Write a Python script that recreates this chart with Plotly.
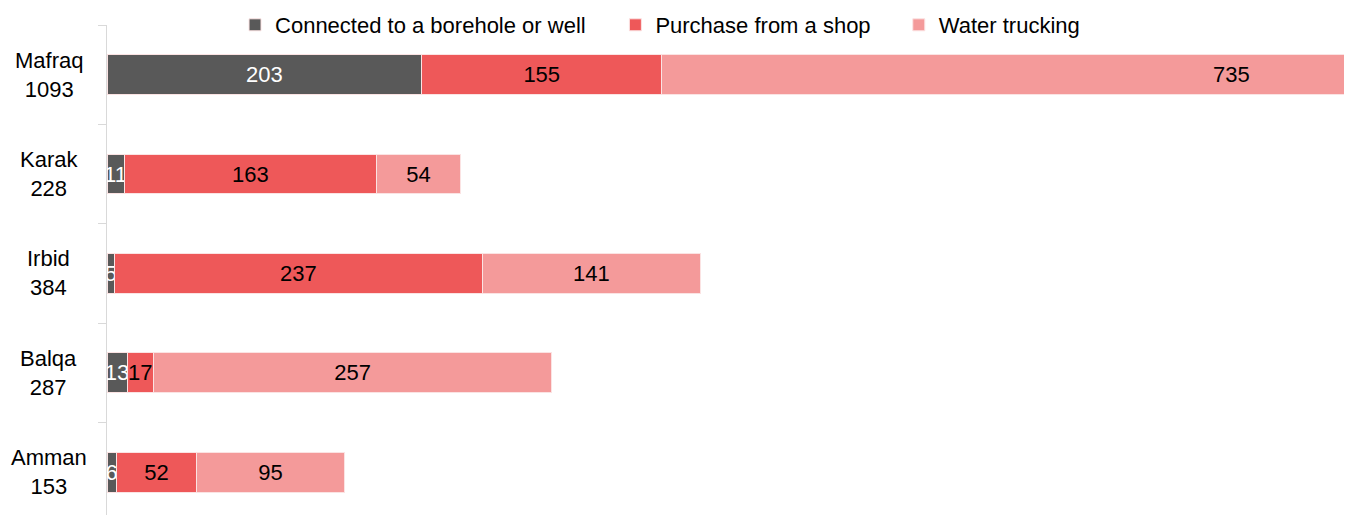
import plotly.graph_objects as go

regions = ["Amman", "Balqa", "Irbid", "Karak", "Mafraq"]
totals = [153, 287, 384, 228, 1093]
borehole = [6, 13, 5, 11, 203]
shop = [52, 17, 237, 163, 155]
trucking = [95, 257, 141, 54, 735]
series_names = ["Connected to a borehole or well", "Purchase from a shop", "Water trucking"]
colors = ["#595959", "#EE5859", "#F49A9A"]
text_colors = ["white", "black", "black"]
legend_ids = ["legend", "legend2", "legend3"]
legend_x = [0.103, 0.409, 0.637]

FONT = "Liberation Sans Narrow, Arial Narrow, Liberation Sans, Arial"

fig = go.Figure()
for name, vals, col, tcol, lid in zip(series_names, [borehole, shop, trucking], colors, text_colors, legend_ids):
    fig.add_trace(go.Bar(
        y=regions, x=vals, name=name, orientation="h", legend=lid,
        marker=dict(color=col, line=dict(color="#FBE3E3", width=1)),
        text=[str(v) for v in vals], textposition="inside", insidetextanchor="middle",
        constraintext="none", textangle=0,
        textfont=dict(family=FONT, size=22, color=tcol),
    ))

for r, t in zip(regions, totals):
    fig.add_annotation(x=-0.047, xref="paper", y=r, yref="y", text=f"{r}<br>{t}",
                       showarrow=False, xanchor="center", yanchor="middle", align="center",
                       font=dict(family=FONT, size=22, color="black"))

legend_common = dict(orientation="h", xanchor="left", y=1.0, yanchor="middle",
                     font=dict(family=FONT, size=22), itemwidth=30,
                     bgcolor="rgba(0,0,0,0)")
layout_legends = {lid: dict(x=lx, **legend_common) for lid, lx in zip(legend_ids, legend_x)}

fig.update_layout(
    barmode="stack", bargap=0.6,
    width=1344, height=507,
    margin=dict(l=99, r=2, t=17, b=0, autoexpand=False),
    plot_bgcolor="white", paper_bgcolor="white",
    font=dict(family=FONT, size=22, color="black"),
    showlegend=True,
    xaxis=dict(range=[0, 802], showticklabels=False, showgrid=False, zeroline=False,
               showline=False, ticks="", automargin=False),
    yaxis=dict(type="category", categoryorder="array", categoryarray=regions,
               range=[-0.43, 4.5], showticklabels=False, showgrid=False, zeroline=False,
               showline=True, linecolor="#D9D9D9", linewidth=1, automargin=False,
               ticks="outside", tickson="boundaries", ticklen=8, tickcolor="#D9D9D9"),
    **layout_legends,
)

fig.write_html("out.html")
